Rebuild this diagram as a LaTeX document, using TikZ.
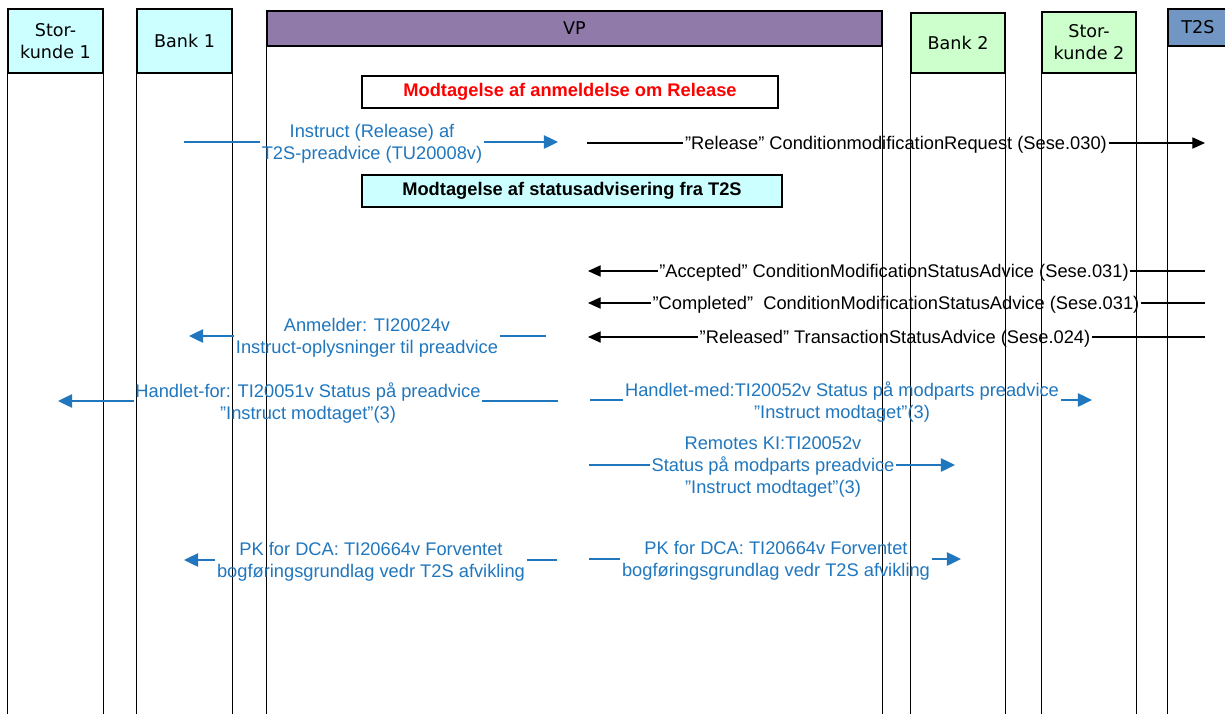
\documentclass[tikz,border=0pt]{standalone}
\usepackage{fontspec}
\setmainfont{Liberation Sans}
\newfontfamily\verdfont{DejaVu Sans}
\usetikzlibrary{arrows.meta,shadows}
\definecolor{hcyan}{HTML}{CCFFFF}
\definecolor{hgreen}{HTML}{CCFFCC}
\definecolor{vppurple}{HTML}{907AAA}
\definecolor{tblue}{HTML}{7296C3}
\definecolor{msgblue}{HTML}{2077BE}
\begin{document}
\begin{tikzpicture}[x=0.025cm,y=-0.025cm,
          hd/.style={draw=black,line width=0.9pt,inner sep=0pt,align=center,
            font=\verdfont\fontsize{12.5}{15.6}\selectfont},
          lane/.style={draw=black,line width=0.9pt},
          box/.style={draw=black,line width=0.8pt,inner sep=0pt,
            minimum width=10.4cm,minimum height=0.8cm,
            font=\fontsize{13}{15}\selectfont\bfseries,
            drop shadow={shadow xshift=1pt,shadow yshift=-1pt,fill=black!40,opacity=1}},
          bl/.style={text=msgblue,font=\fontsize{13}{15.6}\selectfont,align=center,inner sep=1pt},
          bk/.style={text=black,font=\fontsize{13}{15.6}\selectfont,inner sep=1pt},
          barr/.style={draw=msgblue,line width=1pt,-{Triangle[length=10pt,width=9.5pt]}},
          karr/.style={draw=black,line width=0.8pt,-{Triangle[length=9pt,width=8pt]}}
          ]
          \useasboundingbox (0,0) rectangle (1225,713);
          \clip (0,0) rectangle (1225,713);
          \fill[white] (0,0) rectangle (1225,713);
          \coordinate (bot) at (0,720);
          % heads
          \node[hd,fill=hcyan,minimum width=2.375cm,minimum height=1.6cm] (sk1) at (55.5,41) {Stor-\\kunde 1};
          \node[hd,fill=hcyan,minimum width=2.375cm,minimum height=1.6cm] (b1) at (184.5,41) {Bank 1};
          \node[hd,fill=vppurple,minimum width=15.375cm,minimum height=0.875cm] (vp) at (574.5,28.5) {VP};
          \node[hd,fill=hgreen,minimum width=2.35cm,minimum height=1.5cm] (b2) at (958,43) {Bank 2};
          \node[hd,fill=hgreen,minimum width=2.35cm,minimum height=1.525cm] (sk2) at (1089,42.5) {Stor-\\kunde 2};
          \node[hd,fill=tblue,minimum width=1.5cm,minimum height=0.925cm] (t2s) at (1198,27.5) {T2S};
          % lanes
          \foreach \h in {sk1,b1,vp,b2,sk2,t2s} {
            \draw[lane] (\h.south west) -- (\h.south west |- bot);
            \draw[lane] (\h.south east) -- (\h.south east |- bot);
          }
          % boxes
          \node[box,fill=white,text=red] (rel) at (570,92) {Modtagelse af anmeldelse om Release};
          \node[box,fill=hcyan,minimum width=10.5cm] (stat) at (572,191) {Modtagelse af statusadvisering fra T2S};
          % instruct
          \coordinate (i1) at (184,142);
          \coordinate (i2) at (558,142);
          \node[bl] (ins) at (372,144) {Instruct (Release) af\\T2S-preadvice (TU20008v)};
          \draw[barr] (i1) -- (ins.west |- i1) (ins.east |- i1) -- (i2);
          % to T2S
          \coordinate (r1) at (587,143);
          \coordinate (r2) at (1205,143);
          \node[bk] (req) at (896,145) {”Release” ConditionmodificationRequest (Sese.030)};
          \draw[karr] (r1) -- (req.west |- r1) (req.east |- r1) -- (r2);
          % from T2S
          \coordinate (a1) at (1205,271);
          \coordinate (a2) at (588,271);
          \node[bk] (acc) at (894,273) {”Accepted” ConditionModificationStatusAdvice (Sese.031)};
          \draw[karr] (a1) -- (acc.east |- a1) (acc.west |- a1) -- (a2);
          \coordinate (c1) at (1205,303);
          \coordinate (c2) at (588,303);
          \node[bk] (com) at (896,305) {”Completed”\ \ ConditionModificationStatusAdvice (Sese.031)};
          \draw[karr] (c1) -- (com.east |- c1) (com.west |- c1) -- (c2);
          \coordinate (s1) at (1205,337);
          \coordinate (s2) at (588,337);
          \node[bk] (rls) at (895,339) {”Released” TransactionStatusAdvice (Sese.024)};
          \draw[karr] (s1) -- (rls.east |- s1) (rls.west |- s1) -- (s2);
          % to bank 1
          \coordinate (m1) at (546,336);
          \coordinate (m2) at (189,336);
          \node[bl] (anm) at (367,338) {Anmelder: TI20024v\\Instruct-oplysninger til preadvice};
          \draw[barr] (m1) -- (anm.east |- m1) (anm.west |- m1) -- (m2);
          \coordinate (h1) at (558,401);
          \coordinate (h2) at (58,401);
          \node[bl] (hfor) at (308,403) {Handlet-for: TI20051v Status på preadvice\\”Instruct modtaget”(3)};
          \draw[barr] (h1) -- (hfor.east |- h1) (hfor.west |- h1) -- (h2);
          % to bank 2 / storkunde 2
          \coordinate (k1) at (590,400);
          \coordinate (k2) at (1092,400);
          \node[bl] (hmed) at (842,402) {Handlet-med:TI20052v Status på modparts preadvice\\”Instruct modtaget”(3)};
          \draw[barr] (k1) -- (hmed.west |- k1) (hmed.east |- k1) -- (k2);
          \coordinate (e1) at (589,465);
          \coordinate (e2) at (955,465);
          \node[bl] (rem) at (773,467) {Remotes KI:TI20052v\\Status på modparts preadvice\\”Instruct modtaget”(3)};
          \draw[barr] (e1) -- (rem.west |- e1) (rem.east |- e1) -- (e2);
          % PK for DCA
          \coordinate (p1) at (557,560);
          \coordinate (p2) at (184,560);
          \node[bl] (pk1) at (371,562) {PK for DCA: TI20664v Forventet\\bogføringsgrundlag vedr T2S afvikling};
          \draw[barr] (p1) -- (pk1.east |- p1) (pk1.west |- p1) -- (p2);
          \coordinate (q1) at (589,559);
          \coordinate (q2) at (961,559);
          \node[bl] (pk2) at (776,561) {PK for DCA: TI20664v Forventet\\bogføringsgrundlag vedr T2S afvikling};
          \draw[barr] (q1) -- (pk2.west |- q1) (pk2.east |- q1) -- (q2);
        \end{tikzpicture}
\end{document}
